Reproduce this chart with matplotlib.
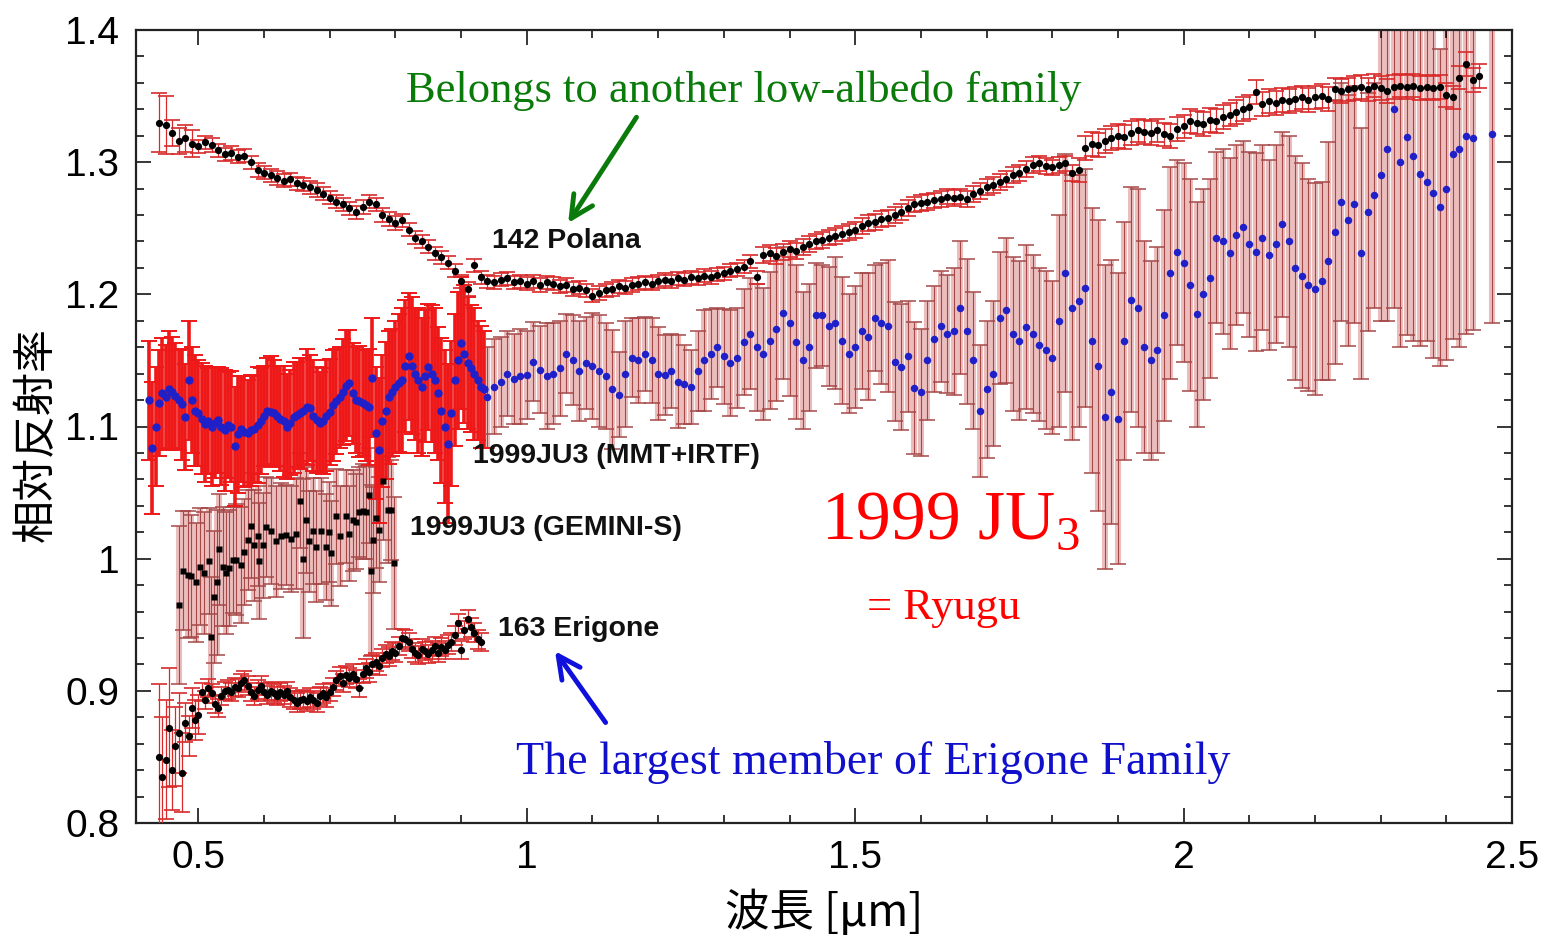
"""Reflectance spectra of 1999 JU3 (Ryugu) with 142 Polana and 163 Erigone."""

import matplotlib
matplotlib.use("Agg")
import matplotlib.pyplot as plt
import numpy as np
from matplotlib.ticker import MultipleLocator, FuncFormatter

plt.rcParams["mathtext.fontset"] = "custom"
plt.rcParams["mathtext.rm"] = "Liberation Serif"

# ---------------- data ----------------
# 142 Polana, 0.44 .. 2.45 um every 0.01 um
polana_start, polana_step = 0.44, 0.01
polana_refl = [
    1.330, 1.328, 1.322, 1.316, 1.318, 1.314,
    1.312, 1.315, 1.313, 1.309, 1.306, 1.307, 1.304, 1.305, 1.300, 1.294,
    1.292, 1.290, 1.288, 1.286, 1.287, 1.284, 1.283, 1.281, 1.279, 1.276,
    1.273, 1.270, 1.268, 1.265, 1.262, 1.266, 1.270, 1.268, 1.260, 1.257,
    1.254, 1.256, 1.249, 1.243, 1.240, 1.236, 1.231, 1.228, 1.224, 1.218,
    1.210, 1.204, 1.222, 1.213, 1.210, 1.209, 1.211, 1.212, 1.209, 1.210,
    1.208, 1.210, 1.207, 1.209, 1.208, 1.206, 1.207, 1.204, 1.205, 1.203,
    1.199, 1.201, 1.203, 1.204, 1.206, 1.205, 1.207, 1.208, 1.209, 1.208,
    1.210, 1.211, 1.210, 1.212, 1.211, 1.213, 1.212, 1.214, 1.213, 1.215,
    1.216, 1.218, 1.219, 1.221, 1.225, 1.213, 1.230, 1.231, 1.229, 1.232,
    1.234, 1.233, 1.236, 1.238, 1.240, 1.241, 1.243, 1.244, 1.246, 1.247,
    1.249, 1.252, 1.254, 1.255, 1.257, 1.258, 1.260, 1.262, 1.265, 1.268,
    1.269, 1.270, 1.271, 1.272, 1.274, 1.273, 1.274, 1.272, 1.276, 1.278,
    1.281, 1.283, 1.285, 1.287, 1.290, 1.292, 1.295, 1.298, 1.299, 1.297,
    1.296, 1.298, 1.299, 1.292, 1.294, 1.311, 1.314, 1.313, 1.316, 1.318,
    1.320, 1.319, 1.322, 1.324, 1.323, 1.322, 1.324, 1.321, 1.320, 1.325,
    1.327, 1.331, 1.330, 1.329, 1.332, 1.331, 1.334, 1.336, 1.338, 1.340,
    1.342, 1.353, 1.344, 1.346, 1.345, 1.347, 1.346, 1.348, 1.349, 1.347,
    1.349, 1.350, 1.348, 1.355, 1.354, 1.355, 1.356, 1.357, 1.355, 1.358,
    1.356, 1.354, 1.357, 1.358, 1.357, 1.358, 1.356, 1.357, 1.356, 1.357,
    1.351, 1.349, 1.364, 1.374, 1.362, 1.365,
]
# error level per wavelength band: (from, to, sigma)
polana_err_bands = [(0.43, 0.455, 0.022), (0.455, 0.50, 0.010),
                    (0.50, 1.36, 0.005), (1.36, 1.84, 0.006), (1.84, 2.50, 0.009)]

# 163 Erigone, 0.44 .. 0.93 um every 0.005 um
erigone_start, erigone_step = 0.44, 0.005
erigone_refl = [
    0.850, 0.835, 0.848, 0.872, 0.840, 0.858, 0.868, 0.838, 0.876, 0.866,
    0.887, 0.878, 0.882, 0.899, 0.893, 0.902, 0.898, 0.890, 0.887, 0.896,
    0.900, 0.901, 0.899, 0.903, 0.902, 0.906, 0.908, 0.904, 0.899, 0.896,
    0.901, 0.904, 0.899, 0.897, 0.900, 0.898, 0.896, 0.899, 0.897, 0.900,
    0.895, 0.893, 0.891, 0.893, 0.894, 0.892, 0.895, 0.893, 0.891, 0.896,
    0.898, 0.895, 0.899, 0.903, 0.908, 0.911, 0.906, 0.912, 0.910, 0.913,
    0.909, 0.902, 0.913, 0.917, 0.914, 0.920, 0.922, 0.919, 0.925, 0.928,
    0.926, 0.930, 0.929, 0.934, 0.940, 0.939, 0.937, 0.932, 0.929, 0.927,
    0.932, 0.930, 0.928, 0.931, 0.934, 0.929, 0.933, 0.931, 0.935, 0.937,
    0.942, 0.951, 0.931, 0.946, 0.954, 0.948, 0.944, 0.939, 0.937,
]
erigone_err_bands = [(0.43, 0.442, 0.055), (0.442, 0.458, 0.045), (0.458, 0.478, 0.030),
                     (0.478, 0.502, 0.015), (0.502, 0.95, 0.007)]

# 1999 JU3, GEMINI-S
gemini_wl = [
    0.471, 0.476, 0.484, 0.489, 0.496, 0.502, 0.508, 0.516, 0.519, 0.524,
    0.528, 0.531, 0.537, 0.542, 0.547, 0.552, 0.557, 0.565, 0.570, 0.575,
    0.580, 0.585, 0.590, 0.593, 0.598, 0.603, 0.611, 0.618, 0.626, 0.633,
    0.641, 0.649, 0.655, 0.659, 0.664, 0.669, 0.674, 0.679, 0.687, 0.694,
    0.699, 0.702, 0.710, 0.715, 0.725, 0.730, 0.735, 0.740, 0.745, 0.750,
    0.755, 0.760, 0.763, 0.766, 0.770, 0.775, 0.781, 0.788, 0.793, 0.798,
]
gemini_refl = [
    0.965, 0.991, 0.988, 0.987, 0.982, 0.994, 0.989, 0.998, 0.941, 0.971,
    0.982, 1.007, 0.994, 0.989, 0.993, 0.999, 0.999, 0.995, 1.005, 1.014,
    1.025, 1.010, 1.017, 0.998, 1.010, 1.024, 1.021, 1.013, 1.017, 1.018,
    1.015, 1.019, 1.044, 1.000, 1.029, 1.013, 1.021, 1.009, 1.021, 1.009,
    1.020, 1.004, 1.032, 1.017, 1.032, 1.019, 1.029, 1.028, 1.035, 1.036,
    1.035, 1.048, 0.991, 1.014, 1.031, 1.022, 1.059, 1.037, 1.037, 0.997,
]
gemini_err = [
    0.060, 0.045, 0.048, 0.046, 0.045, 0.044, 0.046, 0.040, 0.045, 0.050,
    0.055, 0.042, 0.045, 0.046, 0.044, 0.040, 0.042, 0.044, 0.040, 0.038,
    0.040, 0.042, 0.038, 0.044, 0.040, 0.038, 0.040, 0.042, 0.040, 0.038,
    0.040, 0.042, 0.036, 0.060, 0.040, 0.038, 0.040, 0.042, 0.040, 0.040,
    0.038, 0.040, 0.036, 0.038, 0.035, 0.036, 0.038, 0.036, 0.034, 0.036,
    0.035, 0.036, 0.065, 0.040, 0.038, 0.040, 0.045, 0.040, 0.038, 0.050,
]

# 1999 JU3, MMT visible part, 0.425 .. 0.935 um every 0.005 um
mmt_start, mmt_step = 0.425, 0.005
mmt_refl = [
    1.120, 1.084, 1.100, 1.118, 1.125,
    1.122, 1.128, 1.126, 1.123, 1.120, 1.117, 1.107, 1.135, 1.120, 1.112,
    1.110, 1.106, 1.102, 1.104, 1.100, 1.103, 1.105, 1.100, 1.097, 1.101,
    1.100, 1.085, 1.094, 1.098, 1.096, 1.095, 1.097, 1.098, 1.101, 1.104,
    1.108, 1.112, 1.111, 1.110, 1.108, 1.106, 1.104, 1.100, 1.103, 1.107,
    1.109, 1.110, 1.112, 1.115, 1.114, 1.108, 1.105, 1.103, 1.104, 1.108,
    1.111, 1.116, 1.119, 1.122, 1.126, 1.131, 1.133, 1.125, 1.120, 1.119,
    1.118, 1.116, 1.115, 1.137, 1.095, 1.082, 1.104, 1.112, 1.122, 1.126,
    1.130, 1.133, 1.135, 1.146, 1.153, 1.146, 1.140, 1.135, 1.130, 1.138,
    1.145, 1.140, 1.135, 1.125, 1.112, 1.100, 1.087, 1.110, 1.135, 1.150,
    1.163, 1.155, 1.148, 1.144, 1.140, 1.135, 1.130, 1.128,
]
mmt_err = [
    0.045, 0.050, 0.045, 0.040, 0.042,
    0.040, 0.044, 0.042, 0.040, 0.038, 0.042, 0.040, 0.045, 0.040, 0.042,
    0.040, 0.042, 0.044, 0.040, 0.045, 0.042, 0.040, 0.044, 0.046, 0.040,
    0.042, 0.045, 0.044, 0.040, 0.042, 0.040, 0.042, 0.040, 0.044, 0.040,
    0.038, 0.040, 0.042, 0.040, 0.038, 0.040, 0.042, 0.040, 0.040, 0.042,
    0.040, 0.042, 0.040, 0.044, 0.040, 0.042, 0.040, 0.038, 0.040, 0.042,
    0.040, 0.042, 0.040, 0.038, 0.040, 0.042, 0.040, 0.038, 0.040, 0.042,
    0.040, 0.042, 0.044, 0.045, 0.050, 0.055, 0.050, 0.052, 0.050, 0.048,
    0.050, 0.052, 0.055, 0.050, 0.048, 0.052, 0.050, 0.055, 0.052, 0.050,
    0.048, 0.052, 0.055, 0.050, 0.055, 0.058, 0.060, 0.055, 0.050, 0.052,
    0.050, 0.052, 0.050, 0.048, 0.050, 0.045, 0.046, 0.044,
]

# 1999 JU3, IRTF near-infrared part, 0.94 .. 2.44 um every 0.01 um
irtf_start, irtf_step = 0.94, 0.01
irtf_refl = [
    1.122, 1.130, 1.134, 1.140, 1.136, 1.138,
    1.139, 1.149, 1.143, 1.138, 1.140, 1.144, 1.155, 1.150, 1.142, 1.148,
    1.146, 1.142, 1.138, 1.128, 1.124, 1.140, 1.152, 1.150, 1.155, 1.150,
    1.140, 1.139, 1.142, 1.134, 1.132, 1.130, 1.142, 1.150, 1.155, 1.160,
    1.153, 1.148, 1.152, 1.164, 1.170, 1.160, 1.155, 1.165, 1.174, 1.186,
    1.178, 1.164, 1.150, 1.160, 1.184, 1.184, 1.176, 1.178, 1.165, 1.155,
    1.160, 1.172, 1.168, 1.182, 1.178, 1.176, 1.149, 1.145, 1.153, 1.129,
    1.126, 1.150, 1.166, 1.176, 1.170, 1.172, 1.190, 1.172, 1.150, 1.112,
    1.128, 1.140, 1.182, 1.188, 1.170, 1.165, 1.175, 1.170, 1.162, 1.158,
    1.152, 1.180, 1.216, 1.190, 1.195, 1.205, 1.165, 1.146, 1.107, 1.126,
    1.106, 1.165, 1.196, 1.190, 1.160, 1.150, 1.158, 1.184, 1.216, 1.232,
    1.224, 1.207, 1.185, 1.200, 1.212, 1.243, 1.240, 1.231, 1.245, 1.251,
    1.238, 1.232, 1.243, 1.230, 1.238, 1.253, 1.240, 1.220, 1.214, 1.207,
    1.204, 1.210, 1.225, 1.247, 1.270, 1.256, 1.268, 1.231, 1.262, 1.275,
    1.290, 1.310, 1.340, 1.300, 1.319, 1.305, 1.291, 1.285, 1.277, 1.266,
    1.280, 1.306, 1.310, 1.320, 1.318,
]
irtf_err = [
    0.038, 0.036, 0.034, 0.032, 0.034, 0.036,
    0.033, 0.030, 0.033, 0.040, 0.038, 0.036, 0.030, 0.034, 0.038, 0.035,
    0.040, 0.042, 0.040, 0.045, 0.032, 0.040, 0.030, 0.032, 0.028, 0.032,
    0.035, 0.030, 0.028, 0.035, 0.030, 0.028, 0.030, 0.038, 0.034, 0.030,
    0.036, 0.040, 0.038, 0.040, 0.042, 0.048, 0.050, 0.052, 0.055, 0.050,
    0.055, 0.058, 0.052, 0.048, 0.040, 0.038, 0.045, 0.050, 0.048, 0.045,
    0.046, 0.044, 0.048, 0.040, 0.046, 0.050, 0.045, 0.048, 0.042, 0.050,
    0.048, 0.045, 0.040, 0.042, 0.045, 0.048, 0.050, 0.055, 0.052, 0.050,
    0.052, 0.055, 0.050, 0.055, 0.058, 0.060, 0.062, 0.060, 0.058, 0.060,
    0.058, 0.080, 0.090, 0.100, 0.095, 0.090, 0.100, 0.110, 0.115, 0.100,
    0.110, 0.090, 0.085, 0.090, 0.080, 0.075, 0.078, 0.080, 0.080, 0.070,
    0.075, 0.080, 0.085, 0.080, 0.075, 0.065, 0.070, 0.072, 0.068, 0.065,
    0.070, 0.075, 0.070, 0.072, 0.075, 0.070, 0.080, 0.085, 0.085, 0.080,
    0.080, 0.075, 0.090, 0.100, 0.090, 0.095, 0.090, 0.095, 0.090, 0.085,
    0.110, 0.130, 0.150, 0.140, 0.150, 0.140, 0.130, 0.120, 0.125, 0.120,
    0.130, 0.140, 0.150, 0.150, 0.145,
]
# lone last IRTF point
irtf_last = (2.47, 1.321, 0.143)

x_ticks = [0.5, 1, 1.5, 2, 2.5]
y_ticks = [0.8, 0.9, 1.0, 1.1, 1.2, 1.3, 1.4]


def grid(start, step, values):
    return start + step * np.arange(len(values))


def band_errors(wl, bands):
    err = np.zeros(len(wl))
    for lo, hi, sig in bands:
        err[(wl >= lo) & (wl < hi)] = sig
    return err


polana_wl = grid(polana_start, polana_step, polana_refl)
erigone_wl = grid(erigone_start, erigone_step, erigone_refl)
mmt_wl = grid(mmt_start, mmt_step, mmt_refl)
irtf_wl = np.append(grid(irtf_start, irtf_step, irtf_refl), irtf_last[0])
irtf_y = np.append(irtf_refl, irtf_last[1])
irtf_e = np.append(irtf_err, irtf_last[2])

# ---------------- figure ----------------
fig = plt.figure(figsize=(15.44, 9.39), dpi=100)
ax = fig.add_axes([136 / 1544, 116 / 939, 1376 / 1544, 793 / 939])

PINK = "#ebbdbd"
BROWN = "#a54848"
CAPRED = "#e02828"
BLUE = "#2020c8"


def wide_bars(x, y, e, z):
    # light wash behind each bar, then thin dark line with red caps
    ax.errorbar(x, y, yerr=e, fmt="none", ecolor=PINK, elinewidth=4.4,
                capsize=0, zorder=z)
    eb = ax.errorbar(x, y, yerr=e, fmt="none", ecolor=BROWN, elinewidth=0.8,
                     capsize=6, capthick=1.1, zorder=z + 0.1)
    for cap in eb[1]:
        cap.set_color(CAPRED)


# IRTF near-infrared (big error bars)
wide_bars(irtf_wl, irtf_y, irtf_e, 1)
ax.plot(irtf_wl, irtf_y, "o", color=BLUE, ms=5.4, mec="none", zorder=7)

# GEMINI-S
wide_bars(gemini_wl, gemini_refl, gemini_err, 2)
ax.plot(gemini_wl, gemini_refl, "s", color="black", ms=4.4, mec="none", zorder=7)

# MMT visible (dense red bars)
ax.errorbar(mmt_wl, mmt_refl, yerr=mmt_err, fmt="none", ecolor="#ee1818",
            elinewidth=2.6, capsize=6, capthick=1.4, zorder=4)
ax.plot(mmt_wl, mmt_refl, "o", color=BLUE, ms=6.0, mec="none", zorder=7)

# 142 Polana and 163 Erigone
ax.errorbar(polana_wl, polana_refl, yerr=band_errors(polana_wl, polana_err_bands),
            fmt="o", color="black", ms=5.2, mec="none", ecolor="#d82a2a",
            elinewidth=0.9, capsize=6, capthick=1.2, zorder=8)
ax.errorbar(erigone_wl, erigone_refl, yerr=band_errors(erigone_wl, erigone_err_bands),
            fmt="o", color="black", ms=5.2, mec="none", ecolor="#d82a2a",
            elinewidth=0.9, capsize=6, capthick=1.2, zorder=8)

# ---------------- axes ----------------
ax.set_xlim(0.405, 2.5)
ax.set_ylim(0.8, 1.4)
ax.set_xticks(x_ticks)
ax.set_yticks(y_ticks)
ax.xaxis.set_minor_locator(MultipleLocator(0.1))
ax.yaxis.set_minor_locator(MultipleLocator(0.02))
fmt = FuncFormatter(lambda v, _: f"{v:g}")
ax.xaxis.set_major_formatter(fmt)
ax.yaxis.set_major_formatter(fmt)
ax.tick_params(which="both", direction="in", top=True, right=True,
               width=1.1, colors="black")
ax.tick_params(which="major", length=11, labelsize=28, pad=12)
ax.tick_params(which="minor", length=6)
for lab in ax.get_xticklabels() + ax.get_yticklabels():
    lab.set_family(["Liberation Sans", "DejaVu Sans"])
for sp in ax.spines.values():
    sp.set_linewidth(1.6)
    sp.set_color("#222222")

cjk = ["Noto Sans CJK JP", "DejaVu Sans"]
ax.set_xlabel("波長 [μm]", fontsize=32, family=cjk)
ax.set_ylabel("相対反射率", fontsize=31, family=cjk)
ax.xaxis.set_label_coords(0.5, -0.084)
ax.yaxis.set_label_coords(-0.056, 0.49)

# ---------------- annotations ----------------
bold = dict(fontsize=20.5, fontweight="bold", family=["Liberation Sans", "DejaVu Sans"],
            va="center", ha="left", color="#111111", zorder=10)
ax.text(0.947, 1.240, "142 Polana", **bold)
ax.text(0.918, 1.078, "1999JU3 (MMT+IRTF)", **bold)
ax.text(0.822, 1.023, "1999JU3 (GEMINI-S)", **bold)
ax.text(0.956, 0.947, "163 Erigone", **bold)

serif = ["Liberation Serif", "DejaVu Serif"]
ax.text(1.330, 1.354, "Belongs to another low-albedo family", fontsize=32,
        family=serif, color="#0a7a0a", ha="center", va="center", zorder=10)
ax.text(1.527, 0.846, "The largest member of Erigone Family", fontsize=33,
        family=serif, color="#1010cc", ha="center", va="center", zorder=10)
ax.text(1.448, 1.028, "1999 JU$_3$", fontsize=50, family=serif, color="#ff0000",
        ha="left", va="center", zorder=10)
ax.text(1.518, 0.963, "= Ryugu", fontsize=32, family=serif, color="#ff0000",
        ha="left", va="center", zorder=10)

ax.annotate("", xy=(1.063, 1.254), xytext=(1.167, 1.334),
            arrowprops=dict(arrowstyle="->", color="#0a7a0a", lw=3.5,
                            mutation_scale=40, shrinkA=0, shrinkB=0), zorder=10)
ax.annotate("", xy=(1.043, 0.930), xytext=(1.120, 0.876),
            arrowprops=dict(arrowstyle="->", color="#1010dd", lw=3.5,
                            mutation_scale=40, shrinkA=0, shrinkB=0), zorder=10)

fig.savefig("out.png", dpi=100)
plt.close(fig)
